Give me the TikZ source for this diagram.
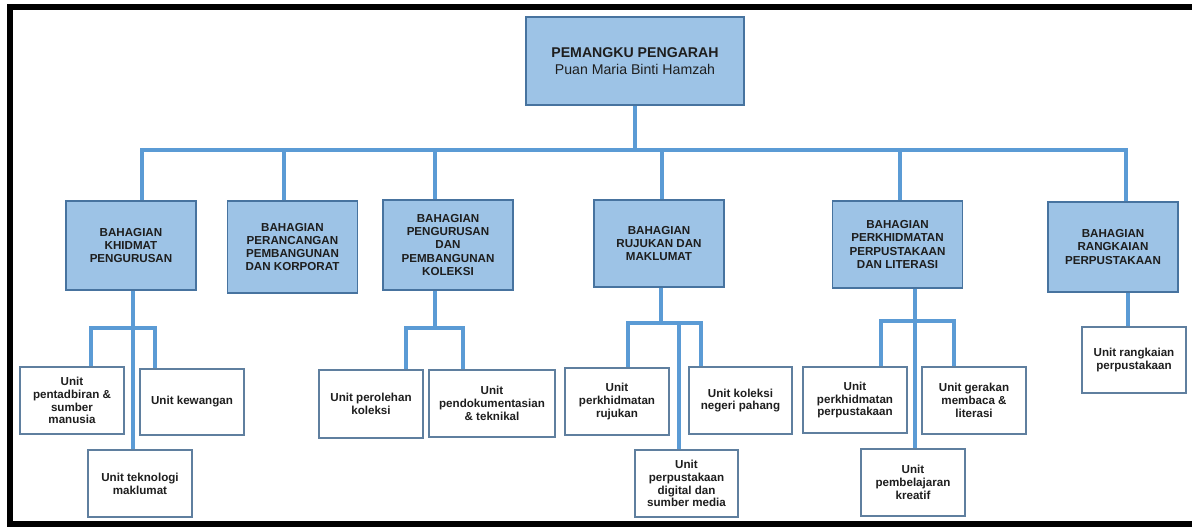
\documentclass[tikz,border=0pt]{standalone}
\usepackage{fontspec}
\setmainfont{Liberation Sans}
\definecolor{conncol}{HTML}{5B9BD5}
\definecolor{boxfill}{HTML}{9DC3E6}
\definecolor{boxbord}{HTML}{47739F}
\definecolor{unitbord}{HTML}{5F7F9F}
\definecolor{txt}{HTML}{1E1E1E}
\begin{document}
\begin{tikzpicture}[x=0.75pt,y=-0.75pt,
  conn/.style={draw=conncol,line width=3.45pt},
  topbox/.style={draw=boxbord,fill=boxfill,line width=0.9pt,minimum width=163.5pt,minimum height=66pt,
    align=center,inner sep=0pt,text=txt,font=\fontsize{10.6}{12.5}\selectfont},
  bah/.style={draw=boxbord,fill=boxfill,line width=0.9pt,minimum width=97.5pt,minimum height=66.75pt,
    align=center,inner sep=0pt,text=txt,font=\bfseries\fontsize{8.7}{9.8}\selectfont},
  unit/.style={draw=unitbord,fill=white,line width=0.8pt,minimum width=78pt,minimum height=50.25pt,
    align=center,inner sep=0pt,text=txt,font=\bfseries\fontsize{8.7}{9.6}\selectfont},
  framebar/.style={fill=black,draw=none}]
\useasboundingbox (0,0) rectangle (1192,527);
% frame
\fill[framebar] (7,4) rectangle (1192,10);
\fill[framebar] (7,4) rectangle (13,527);
\fill[framebar] (7,521) rectangle (1192,527);
% top
\node[topbox] (top) at (635,61) {\textbf{PEMANGKU PENGARAH}\\Puan Maria Binti Hamzah};
% bahagian
\node[bah,minimum height=66.75pt] (b1) at (131,245.5) {BAHAGIAN\\KHIDMAT\\PENGURUSAN};
\node[bah,minimum height=69pt] (b2) at (292.5,247) {BAHAGIAN\\PERANCANGAN\\PEMBANGUNAN\\DAN KORPORAT};
\node[bah,minimum height=67.5pt] (b3) at (448,245) {BAHAGIAN\\PENGURUSAN\\DAN\\PEMBANGUNAN\\KOLEKSI};
\node[bah,minimum height=65.25pt] (b4) at (659,243.5) {BAHAGIAN\\RUJUKAN DAN\\MAKLUMAT};
\node[bah,minimum height=65.25pt] (b5) at (897.5,244.5) {BAHAGIAN\\PERKHIDMATAN\\PERPUSTAKAAN\\DAN LITERASI};
\node[bah,minimum height=67.5pt] (b6) at (1113,247) {BAHAGIAN\\RANGKAIAN\\PERPUSTAKAAN};
% units
\node[unit] (u1) at (72,400.5) {Unit\\pentadbiran \&\\sumber\\manusia};
\node[unit,minimum height=49.5pt] (u2) at (192,402) {Unit kewangan};
\node[unit] (u3) at (140,483.5) {Unit teknologi\\maklumat};
\node[unit,minimum height=51pt] (u4) at (371,404) {Unit perolehan\\koleksi};
\node[unit,minimum width=94.5pt] (u5) at (492,403.5) {Unit\\pendokumentasian\\\& teknikal};
\node[unit] (u6) at (617,401.5) {Unit\\perkhidmatan\\rujukan};
\node[unit,minimum width=77.25pt] (u7) at (740.5,400.5) {Unit koleksi\\negeri pahang};
\node[unit,minimum width=77.25pt] (u8) at (686.5,483.5) {Unit\\perpustakaan\\digital dan\\sumber media};
\node[unit,minimum height=49.5pt] (u9) at (855,400) {Unit\\perkhidmatan\\perpustakaan};
\node[unit] (u10) at (974,400.5) {Unit gerakan\\membaca \&\\literasi};
\node[unit] (u11) at (913,482.5) {Unit\\pembelajaran\\kreatif};
\node[unit,minimum height=49.5pt] (u12) at (1134,360) {Unit rangkaian\\perpustakaan};
% main bus
\coordinate (bus0) at (635,150);
\coordinate (bl) at (142,150);
\coordinate (br) at (1126,150);
\coordinate (x2) at (284,150);
\coordinate (x3) at (435,150);
\coordinate (x4) at (662,150);
\coordinate (x5) at (900,150);
\draw[conn] (top.south) -- (bus0);
\draw[conn] (b1.north -| bl) -- (bl) -- (br) -- (b6.north -| br);
\draw[conn] (x2) -- (x2 |- b2.north);
\draw[conn] (x3) -- (x3 |- b3.north);
\draw[conn] (x4) -- (x4 |- b4.north);
\draw[conn] (x5) -- (x5 |- b5.north);
% B1 units
\coordinate (s1) at (133,328);
\coordinate (s1l) at (91,328);
\coordinate (s1r) at (155,328);
\draw[conn] (b1.south -| s1) -- (s1 |- u3.north);
\draw[conn] (s1l |- u1.north) -- (s1l) -- (s1r) -- (s1r |- u2.north);
% B3 units
\coordinate (s3) at (435,328);
\coordinate (s3l) at (406,328);
\coordinate (s3r) at (463,328);
\draw[conn] (b3.south -| s3) -- (s3);
\draw[conn] (s3l |- u4.north) -- (s3l) -- (s3r) -- (s3r |- u5.north);
% B4 units
\coordinate (s4) at (661,323);
\coordinate (s4l) at (628,323);
\coordinate (s4m) at (679,323);
\coordinate (s4r) at (701,323);
\draw[conn] (b4.south -| s4) -- (s4);
\draw[conn] (s4l |- u6.north) -- (s4l) -- (s4r) -- (s4r |- u7.north);
\draw[conn] (s4m) -- (s4m |- u8.north);
% B5 units
\coordinate (s5) at (915,321);
\coordinate (s5l) at (881,321);
\coordinate (s5r) at (954,321);
\draw[conn] (b5.south -| s5) -- (s5 |- u11.north);
\draw[conn] (s5l |- u9.north) -- (s5l) -- (s5r) -- (s5r |- u10.north);
% B6 unit
\coordinate (s6) at (1128,300);
\draw[conn] (b6.south -| s6) -- (s6 |- u12.north);
\end{tikzpicture}
\end{document}
